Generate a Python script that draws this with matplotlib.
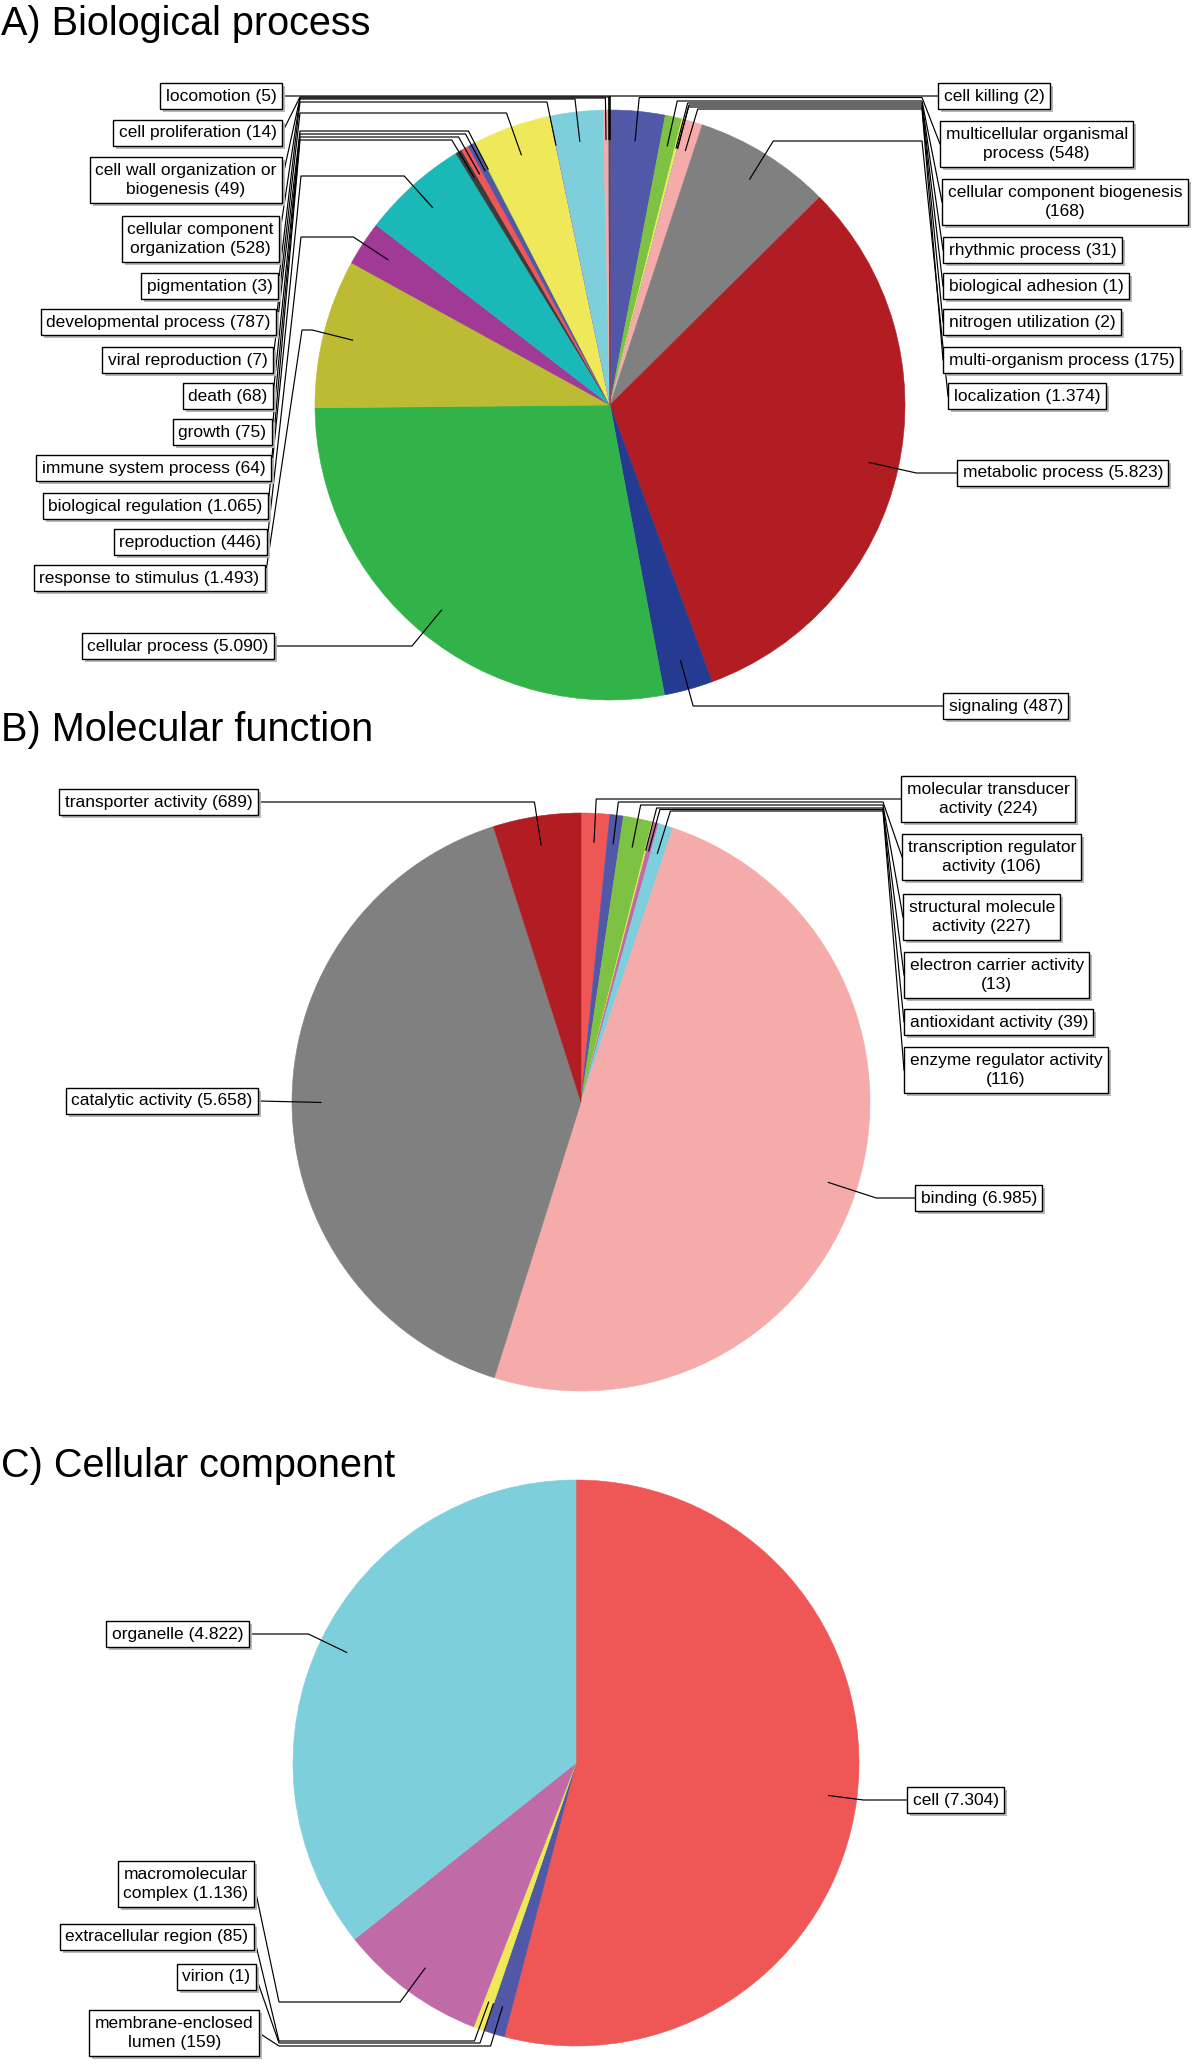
import numpy as np
import matplotlib
matplotlib.use('Agg')
import matplotlib.pyplot as plt

plt.rcParams['font.family'] = ['Liberation Sans', 'DejaVu Sans']

W, H = 1200, 2065

# colour cycle of the exported GO pies
palette = ['#ef5656', '#5158a8', '#7dc242', '#efe95a', '#c06aa8', '#7ecfdc', '#f6abab',
           '#808080', '#b21d24', '#253b91', '#32b34a', '#bdbb34', '#a13a97', '#1bb8b8',
           '#3c3c3c']

# A) Biological process, clockwise from 12 o'clock
bp_names = ["cell killing", "multicellular organismal\nprocess", "cellular component biogenesis",
            "rhythmic process", "biological adhesion", "nitrogen utilization",
            "multi-organism process", "localization", "metabolic process", "signaling",
            "cellular process", "response to stimulus", "reproduction", "biological regulation",
            "immune system process", "growth", "death", "viral reproduction",
            "developmental process", "pigmentation", "cellular component\norganization",
            "cell wall organization or\nbiogenesis", "cell proliferation", "locomotion"]
bp_counts = [2, 548, 168, 31, 1, 2, 175, 1374, 5823, 487, 5090, 1493, 446, 1065,
             64, 75, 68, 7, 787, 3, 528, 49, 14, 5]

# B) Molecular function
mf_names = ["molecular transducer\nactivity", "transcription regulator\nactivity",
            "structural molecule\nactivity", "electron carrier activity", "antioxidant activity",
            "enzyme regulator activity", "binding", "catalytic activity", "transporter activity"]
mf_counts = [224, 106, 227, 13, 39, 116, 6985, 5658, 689]

# C) Cellular component
cc_names = ["cell", "membrane-enclosed\nlumen", "virion", "extracellular region",
            "macromolecular\ncomplex", "organelle"]
cc_counts = [7304, 159, 1, 85, 1136, 4822]

# labels where the count goes on its own line
count_own_line = {"cellular component biogenesis", "electron carrier activity",
                  "enzyme regulator activity"}

# label layout: side, box edge x, box centre y, leader row y, bus x (None = straight)
bp_layout = [
    ('R', 938, 96, 96, 922), ('R', 940, 144, 97.5, 922), ('R', 942, 202, 101, 922),
    ('R', 943, 250, 103, 922), ('R', 943, 286, 105, 922), ('R', 943, 322, 107, 922),
    ('R', 943, 360, 109, 922), ('R', 948, 396, 141, 922), ('R', 957, 473, 473, None),
    ('R', 943, 706, 706, None),
    ('L', 274, 646, 646, None), ('L', 265, 578, 330, 302), ('L', 267, 542, 237, 301),
    ('L', 268, 506, 176, 301), ('L', 271, 468, 140, 300), ('L', 272, 432, 137, 300),
    ('L', 273, 396, 134, 300), ('L', 273, 360, 131, 300), ('L', 276, 322, 113, 300),
    ('L', 278, 286, 102, 300), ('L', 279, 239, 99, 300), ('L', 282, 180, 98, 300),
    ('L', 282, 133, 97, 300), ('L', 282, 96, 96, 300),
]
mf_layout = [
    ('R', 901, 799, 799, 883), ('R', 902, 857, 802, 883), ('R', 903, 917, 805, 883),
    ('R', 904, 975, 808, 883), ('R', 904, 1022, 809.5, 883), ('R', 904, 1070, 811, 883),
    ('R', 915, 1198, 1198, None), ('L', 258, 1101, 1101, None), ('L', 258, 802, 802, None),
]
cc_layout = [
    ('R', 907, 1800, 1800, None), ('L', 259, 2033, 2046, 279), ('L', 256, 1977, 2043, 279),
    ('L', 254, 1937, 2041, 279), ('L', 254, 1884, 2002, 279), ('L', 249, 1634, 1634, None),
]

FS = 12.5
PADF = 0.32
PAD = PADF * FS * 100 / 72
SHADOW = 3


def fmt(n):
    return "{:,}".format(n).replace(",", ".")


def draw_pie(ax, names, counts, layout, center, radius, title, title_y):
    cx, cy = center
    counts = np.asarray(counts, float)
    colors = [palette[i % len(palette)] for i in range(len(counts))]
    wedges, _ = ax.pie(counts, colors=colors, center=center, radius=radius,
                       startangle=-90, counterclock=True)
    for w in wedges:
        w.set_edgecolor(w.get_facecolor())
        w.set_linewidth(0.4)

    mid = np.cumsum(counts) - counts / 2
    theta = np.deg2rad(-90 + 360 * mid / counts.sum())

    for k, (side, bx, by, row_y, bus_x) in enumerate(layout):
        dx, dy = np.cos(theta[k]), np.sin(theta[k])
        ax0, ay0 = cx + 0.9 * radius * dx, cy + 0.9 * radius * dy
        t = (row_y - ay0) / dy if abs(dy) > 1e-3 else 0.0
        t = float(np.clip(t, 0, 90))
        xs = [ax0, ax0 + t * dx]
        ys = [ay0, ay0 + t * dy]
        if bus_x is not None:
            xs.append(bus_x)
            ys.append(row_y)
        xs.append(bx)
        ys.append(by)
        ax.plot(xs, ys, color='black', lw=0.85, zorder=3, solid_joinstyle='miter')

        n = int(counts[k])
        sep = "\n" if names[k] in count_own_line else " "
        label = names[k] + sep + "(" + fmt(n) + ")"
        ha = 'left' if side == 'R' else 'right'
        tx = bx + PAD if side == 'R' else bx - PAD
        # drop shadow then the box itself
        ax.text(tx + SHADOW, by + SHADOW, label, ha=ha, va='center', multialignment='center',
                fontsize=FS, color='none', zorder=4, linespacing=1.4,
                bbox=dict(boxstyle='square,pad=%s' % PADF, fc='#b8b8b8', ec='none'))
        ax.text(tx, by, label, ha=ha, va='center', multialignment='center',
                fontsize=FS, color='black', zorder=5, linespacing=1.4,
                bbox=dict(boxstyle='square,pad=%s' % PADF, fc='white', ec='black', lw=1.0))

    ax.text(1, title_y, title, fontsize=28.5, ha='left', va='baseline', zorder=6)


fig = plt.figure(figsize=(W / 100, H / 100), dpi=100)
ax = fig.add_axes([0, 0, 1, 1])

draw_pie(ax, bp_names, bp_counts, bp_layout, (610, 405), 295, "A) Biological process", 35)
draw_pie(ax, mf_names, mf_counts, mf_layout, (581, 1102), 289, "B) Molecular function", 741)
draw_pie(ax, cc_names, cc_counts, cc_layout, (576, 1763), 283, "C) Cellular component", 1477)

ax.set_xlim(0, W)
ax.set_ylim(H, 0)
ax.set_aspect('auto')
ax.axis('off')

fig.savefig('out.png', dpi=100, facecolor='white')
